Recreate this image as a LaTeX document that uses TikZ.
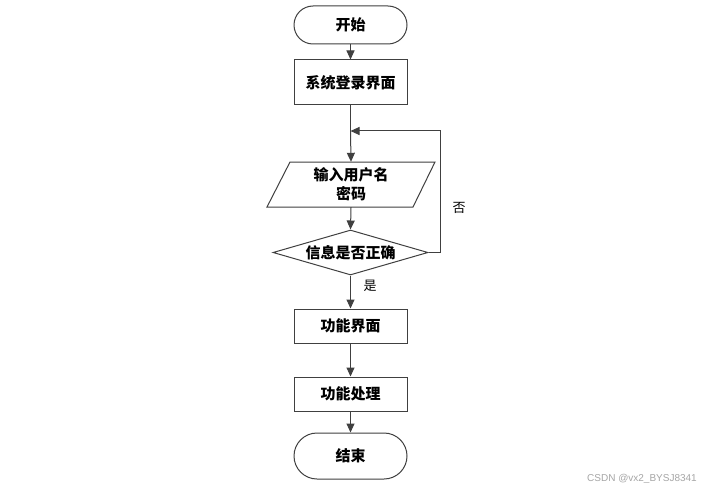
\documentclass[tikz,border=0pt]{standalone}
\usepackage{fontspec}
\newfontfamily\cjk{Noto Sans CJK SC}
\newfontfamily\wmfont{Liberation Sans}
\usetikzlibrary{shapes.geometric,arrows.meta}
\begin{document}
\begin{tikzpicture}[x=1pt,y=-1pt,
  every node/.style={font=\cjk\bfseries\fontsize{15}{19}\selectfont, inner sep=0pt, text=black},
  term/.style={draw=black!75, line width=1pt, rounded corners=19pt, minimum width=113pt, minimum height=38pt},
  procbox/.style={draw=black!75, line width=1pt, minimum width=113pt, minimum height=34pt},
  decision/.style={draw=black!75, line width=1pt, diamond, aspect=3.44, minimum width=155pt, minimum height=45pt},
  conn/.style={draw=black!75, line width=1pt, -{Triangle[length=9pt,width=8pt]}},
  lbl/.style={font=\cjk\fontsize{13}{15}\selectfont}]
\useasboundingbox (0,0) rectangle (717,492);
\fill[white] (0,0) rectangle (717,492);

\node[term] (start) at (350.5,25) {开始};
\node[procbox, minimum height=45pt] (login) at (350.5,82.5) {系统登录界面};
\node[minimum width=145pt, minimum height=45pt, align=center] (input) at (351,184.5) {输入用户名\\密码};
\draw[black!75, line width=1pt] (267,207) -- (290,162) -- (435,162) -- (413,207) -- cycle;
\node[decision] (check) at (350.5,252.5) {信息是否正确};
\node[procbox] (func) at (350.5,326) {功能界面};
\node[procbox] (proc) at (350.5,394) {功能处理};
\node[term, minimum height=46pt, rounded corners=23pt] (end) at (350.5,456) {结束};

\coordinate (j) at (350.5,131);
\coordinate (r) at (440,252.5);
\coordinate (rt) at (440,131);

\draw[conn] (start) -- (login);
\draw[black!75, line width=1pt] (login.south) -- (j);
\draw[conn] (j) -- (input.north);
\draw[conn] (input.south) -- (check.north);
\draw[conn] (check.south) -- (func.north);
\draw[conn] (func) -- (proc);
\draw[conn] (proc) -- (end);
\draw[conn] (check.east) -- (r) -- (rt) -- (j);

\node[lbl] (yes) at (370,286) {是};
\node[lbl] (no) at (459,208) {否};
\node[font=\wmfont\fontsize{10}{12}\selectfont, text=black!35, anchor=east] (wm) at (697,479) {CSDN @vx2\_BYSJ8341};
\end{tikzpicture}
\end{document}
